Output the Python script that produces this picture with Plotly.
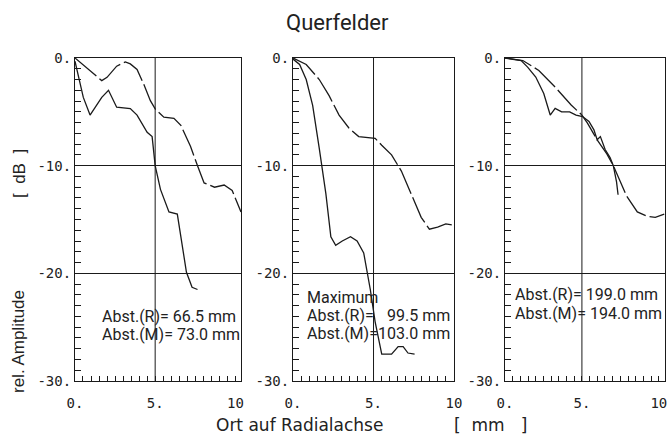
import plotly.graph_objects as go

# Querfelder: rel. Amplitude [dB] vs Ort auf Radialachse [mm], drei Abstaende
x_tick_vals = [0, 5, 10]
x_tick_text = ["0.", "5.", "10"]
y_tick_vals = [0, -10, -20, -30]
y_tick_text = ["0.", "-10.", "-20.", "-30."]

# Panel 1: Abst.(R)= 66.5 mm
p1_solid_x = [0, 0.52, 0.94, 1.67, 2.09, 2.6, 3.45, 3.87, 4.5, 4.81, 5.0, 5.33, 5.86, 6.38, 6.95, 7.3, 7.64]
p1_solid_y = [-0.3, -3.66, -5.3, -3.66, -3.0, -4.57, -4.7, -5.3, -6.9, -7.3, -10.0, -12.2, -14.3, -14.5, -19.9, -21.3, -21.5]
p1_dash_x = [0, 0.94, 1.67, 2.0, 2.6, 3.14, 3.45, 3.87, 4.29, 4.7, 5.0, 5.54, 6.17, 6.6, 7.2, 7.64, 8.05, 8.7, 9.3, 9.8, 10.35]
p1_dash_y = [0, -1.2, -2.1, -1.8, -0.76, -0.37, -0.55, -1.07, -2.44, -3.96, -4.73, -5.5, -5.6, -6.25, -8.2, -10.0, -11.6, -12.0, -11.8, -12.3, -14.3]

# Panel 2: Maximum, Abst.(R)= 99.5 mm
p2_solid_x = [0, 0.41, 0.82, 1.22, 1.63, 2.04, 2.35, 2.65, 3.06, 3.57, 3.98, 4.39, 4.8, 5.1, 5.51, 6.12, 6.53, 6.84, 7.14, 7.55]
p2_solid_y = [-0.1, -0.6, -2.0, -4.4, -8.4, -12.6, -16.6, -17.4, -17.0, -16.6, -17.0, -18.1, -21.5, -24.5, -27.5, -27.5, -26.8, -26.8, -27.4, -27.5]
p2_dash_x = [0, 0.82, 1.63, 2.24, 2.86, 3.47, 4.08, 4.69, 5.1, 5.51, 6.12, 6.73, 7.35, 7.96, 8.47, 8.98, 9.49, 9.86]
p2_dash_y = [0, -0.6, -2.0, -3.5, -5.3, -6.5, -7.3, -7.4, -7.46, -8.1, -9.0, -10.5, -12.6, -14.8, -15.9, -15.7, -15.4, -15.5]

# Panel 3: Abst.(R)= 199.0 mm
p3_solid_x = [0, 1.05, 1.47, 2.0, 2.52, 2.94, 3.26, 3.68, 4.2, 4.62, 5.04, 5.46, 5.78, 5.99, 6.2, 6.51, 6.83, 7.04, 7.25, 7.35]
p3_solid_y = [0, -0.24, -0.85, -1.77, -3.3, -5.3, -4.68, -5.0, -5.0, -5.3, -5.44, -5.9, -6.67, -7.6, -7.3, -8.5, -9.25, -10.0, -11.5, -12.7]
p3_dash_x = [0, 1.16, 2.2, 3.26, 4.3, 4.8, 5.0, 5.36, 5.99, 6.62, 7.04, 7.9, 8.6, 9.24, 9.77, 10.35]
p3_dash_y = [0, -0.24, -1.16, -2.7, -4.37, -4.98, -5.3, -6.05, -7.6, -8.9, -10.0, -12.8, -14.3, -14.7, -14.8, -14.5]

panels = [
    (p1_solid_x, p1_solid_y, p1_dash_x, p1_dash_y),
    (p2_solid_x, p2_solid_y, p2_dash_x, p2_dash_y),
    (p3_solid_x, p3_solid_y, p3_dash_x, p3_dash_y),
]
x_ranges = [[0, 10.35], [0, 10.0], [0, 10.4]]
x_domains = [[0.1124, 0.3613], [0.4393, 0.6807], [0.7571, 0.997]]
y_domain = [0.1281, 0.8673]

INK = "#1a1a1a"
mono = "DejaVu Sans Mono"
cond = "Roboto, Liberation Sans, sans-serif"

fig = go.Figure()
layout = {}
for i, (sx, sy, dx, dy) in enumerate(panels, start=1):
    suf = "" if i == 1 else str(i)
    fig.add_trace(go.Scatter(x=dx, y=dy, mode="lines", xaxis="x" + suf, yaxis="y" + suf,
                             line=dict(color=INK, width=1.3, dash="28px,4px"), showlegend=False))
    fig.add_trace(go.Scatter(x=sx, y=sy, mode="lines", xaxis="x" + suf, yaxis="y" + suf,
                             line=dict(color=INK, width=1.3), showlegend=False))
    layout["xaxis" + suf] = dict(
        domain=x_domains[i - 1], range=x_ranges[i - 1], anchor="y" + suf, automargin=False,
        tickmode="array", tickvals=x_tick_vals, ticktext=x_tick_text,
        ticks="inside", ticklen=5, tickcolor=INK, ticklabeloverflow="allow",
        minor=dict(tick0=0, dtick=0.5, ticks="inside", ticklen=5, tickcolor=INK, showgrid=False),
        showgrid=False, zeroline=False, showline=True, linecolor=INK, linewidth=1, mirror=True,
        tickfont=dict(family=mono, size=14, color="#222"), ticklabelstandoff=9,
    )
    layout["yaxis" + suf] = dict(
        domain=y_domain, range=[-30, 0], anchor="x" + suf, automargin=False,
        tickmode="array", tickvals=y_tick_vals, ticktext=y_tick_text,
        ticks="inside", ticklen=6, tickcolor=INK,
        minor=dict(tick0=0, dtick=1, ticks="inside", ticklen=6, tickcolor=INK, showgrid=False),
        showgrid=True, gridcolor=INK, gridwidth=1, zeroline=False,
        showline=True, linecolor=INK, linewidth=1, mirror=True,
        tickfont=dict(family=mono, size=14, color="#222"),
    )
    # vertical grid line at 5 mm
    fig.add_shape(type="line", xref="x" + suf, yref="y" + suf + " domain",
                  x0=5, x1=5, y0=0, y1=1, line=dict(color=INK, width=1), layer="below")

txt = dict(family=cond, size=16, color="#222")
notes = [
    ("x", "y", 1.55, -24.0, "Abst.(R)=  66.5  mm", "left"),
    ("x", "y", 1.55, -25.7, "Abst.(M)=  73.0  mm", "left"),
    ("x2", "y2", 0.75, -22.2, "Maximum", "left"),
    ("x2", "y2", 0.75, -23.9, "Abst.(R)=", "left"),
    ("x2", "y2", 0.75, -25.6, "Abst.(M)=", "left"),
    ("x2", "y2", 9.9, -23.9, "99.5  mm", "right"),
    ("x2", "y2", 9.9, -25.6, "103.0  mm", "right"),
    ("x3", "y3", 0.5, -22.0, "Abst.(R)=  199.0  mm", "left"),
    ("x3", "y3", 0.5, -23.7, "Abst.(M)=  194.0  mm", "left"),
]
annotations = []
for xr, yr, x, y, t, anc in notes:
    annotations.append(dict(xref=xr, yref=yr, x=x, y=y, text=t.replace("  ", "\u00a0"),
                            xanchor=anc, yanchor="middle", showarrow=False, font=txt))

annotations += [
    dict(xref="paper", yref="paper", x=0.5067, y=0.9474, text="Querfelder", showarrow=False,
         xanchor="center", yanchor="middle", font=dict(family=cond, size=22, color="#222")),
    dict(xref="paper", yref="paper", x=0.0285, y=0.6018, text="[\u00a0\u00a0dB\u00a0\u00a0]", textangle=-90,
         xanchor="center", yanchor="middle", showarrow=False,
         font=dict(family="Liberation Sans, sans-serif", size=17, color="#222")),
    dict(xref="paper", yref="paper", x=0.0285, y=0.2174, text="rel. Amplitude", textangle=-90,
         xanchor="center", yanchor="middle", showarrow=False,
         font=dict(family="Liberation Sans, sans-serif", size=17, color="#222")),
    dict(xref="paper", yref="paper", x=0.4483, y=0.0275, text="Ort auf Radialachse", showarrow=False,
         xanchor="center", yanchor="middle", font=dict(family="DejaVu Sans", size=17, color="#222")),
    dict(xref="paper", yref="paper", x=0.7361, y=0.0275, text="[\u00a0\u00a0mm\u00a0\u00a0\u00a0]", showarrow=False,
         xanchor="center", yanchor="middle", font=dict(family="DejaVu Sans", size=17, color="#222")),
]

fig.update_layout(
    width=667, height=437,
    margin=dict(l=0, r=0, t=0, b=0, autoexpand=False),
    paper_bgcolor="white", plot_bgcolor="white",
    annotations=annotations,
    **layout,
)

# page without body margin, so the 667x437 figure fills the window exactly
fig.write_html("out.html", config={"displayModeBar": False},
               post_script="document.body.style.margin='0';document.body.style.overflow='hidden';")
